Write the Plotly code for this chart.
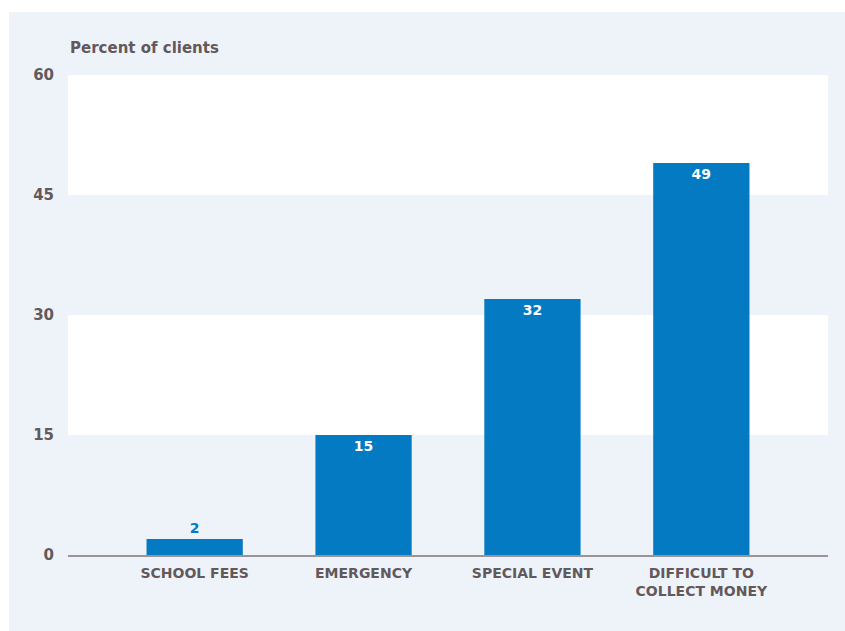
import plotly.graph_objects as go

# Share of clients by reason
categories = ["SCHOOL FEES", "EMERGENCY", "SPECIAL EVENT", "DIFFICULT TO<br>COLLECT MONEY"]
values = [2, 15, 32, 49]
y_ticks = [0, 15, 30, 45, 60]
axis_title = "Percent of clients"

BLUE = "#047AC2"
PANEL = "#EEF3FA"
TEXT = "#63585A"
FONT = "DejaVu Sans"

W, H = 845, 631
L, R, T, B = 68, 17, 75, 76
pw, ph = W - L - R, H - T - B

text_pos = ["outside" if v < 5 else "inside" for v in values]
text_col = [BLUE if v < 5 else "white" for v in values]

fig = go.Figure(go.Bar(
    x=list(range(len(categories))),
    y=values,
    width=0.57,
    marker=dict(color=BLUE, line=dict(width=0)),
    text=[str(v) for v in values],
    textposition=text_pos,
    insidetextanchor="end",
    textfont=dict(family=FONT, size=14, color=text_col, weight="bold"),
    outsidetextfont=dict(family=FONT, size=14, color=BLUE, weight="bold"),
    cliponaxis=False,
    hoverinfo="skip",
))

shapes = [
    # light panel behind the chart
    dict(type="rect", xref="paper", yref="paper", layer="below",
         x0=(9 - L) / pw, x1=(W - L) / pw,
         y0=(T + ph - H) / ph, y1=(T + ph - 12) / ph,
         fillcolor=PANEL, line=dict(width=0)),
]
# white bands on alternate intervals
for lo, hi in [(15, 30), (45, 60)]:
    shapes.append(dict(type="rect", xref="paper", yref="y", layer="below",
                       x0=0, x1=1, y0=lo, y1=hi,
                       fillcolor="white", line=dict(width=0)))

fig.update_layout(
    width=W, height=H,
    margin=dict(l=L, r=R, t=T, b=B, pad=0),
    paper_bgcolor="white",
    plot_bgcolor=PANEL,
    showlegend=False,
    shapes=shapes,
    font=dict(family=FONT, color=TEXT),
    xaxis=dict(
        range=[-0.75, 3.75],
        tickvals=list(range(len(categories))),
        ticktext=categories,
        tickfont=dict(family=FONT, size=14, color=TEXT, weight="bold"),
        showgrid=False, zeroline=False,
        showline=True, linecolor="#9B9496", linewidth=2,
        ticks="outside", ticklen=4, tickcolor="rgba(0,0,0,0)",
        fixedrange=True,
    ),
    yaxis=dict(
        range=[0, 60],
        tickvals=y_ticks,
        tickfont=dict(family=FONT, size=15, color=TEXT, weight="bold"),
        showgrid=False, zeroline=False, showline=False,
        ticks="outside", ticklen=10, tickcolor="rgba(0,0,0,0)",
        fixedrange=True,
    ),
    annotations=[dict(
        text=axis_title, xref="paper", yref="paper",
        x=0, y=(T + ph - 48) / ph, xanchor="left", yanchor="middle",
        showarrow=False,
        font=dict(family=FONT, size=15, color=TEXT, weight="bold"),
    )],
)

fig.write_html("out.html")
